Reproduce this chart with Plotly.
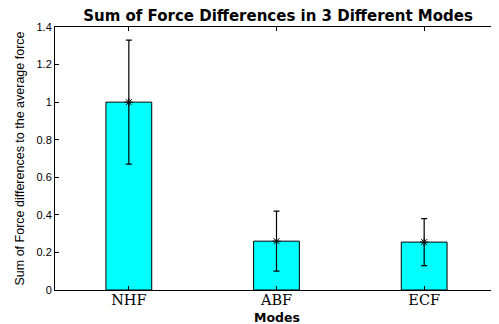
import plotly.graph_objects as go

modes = ["NHF", "ABF", "ECF"]
values = [1.0, 0.26, 0.255]
errors = [0.33, 0.16, 0.125]
y_ticks = [0, 0.2, 0.4, 0.6, 0.8, 1, 1.2, 1.4]
y_tick_labels = ["0", "0.2", "0.4", "0.6", "0.8", "1", "1.2", "1.4"]

xpos = [1, 2, 3]

fig = go.Figure()
fig.add_trace(go.Bar(
    x=xpos, y=values, width=0.31,
    marker=dict(color="#00FFFF", line=dict(color="black", width=1)),
    showlegend=False,
))
fig.add_trace(go.Scatter(
    x=xpos, y=values, mode="markers",
    marker=dict(symbol="asterisk", size=7, color="black", line=dict(color="black", width=1)),
    error_y=dict(type="data", array=errors, visible=True, color="black", thickness=1.2, width=3),
    showlegend=False,
))

# page body has an 8px margin, so the figure is sized to fit inside the window
fig.update_layout(
    width=491, height=316,
    margin=dict(l=47, r=1, t=19, b=34),
    paper_bgcolor="white", plot_bgcolor="white",
    title=dict(text="<b>Sum of Force Differences in 3 Different Modes</b>",
               x=0.55, xanchor="center", xref="container",
               y=0.976, yanchor="middle", yref="container",
               font=dict(family="DejaVu Sans", size=15, color="black")),
    font=dict(family="Arial, Liberation Sans", color="black"),
    annotations=[dict(text="<b>Modes</b>", xref="paper", yref="paper",
                      x=0.5, y=-0.104, xanchor="center", yanchor="middle",
                      showarrow=False,
                      font=dict(family="DejaVu Sans", size=12.5, color="black"))],
)
fig.update_xaxes(
    range=[0.5, 3.5], tickvals=xpos, ticktext=modes,
    tickfont=dict(family="DejaVu Serif", size=14.5, color="black"),
    ticks="inside", ticklen=4, tickcolor="black", ticklabelstandoff=-3,
    showline=True, linecolor="black", linewidth=1, mirror="ticks",
    showgrid=False, zeroline=False,
)
fig.update_yaxes(
    range=[0, 1.4], tickvals=y_ticks, ticktext=y_tick_labels,
    tickfont=dict(family="Arial, Liberation Sans", size=11, color="black"),
    ticks="inside", ticklen=4, tickcolor="black",
    showline=True, linecolor="black", linewidth=1, mirror="ticks",
    showgrid=False, zeroline=False,
    title=dict(text="Sum of Force differences to the average force",
               font=dict(family="Arial, Liberation Sans", size=12.5, color="black"), standoff=9),
)

fig.write_html("out.html")
